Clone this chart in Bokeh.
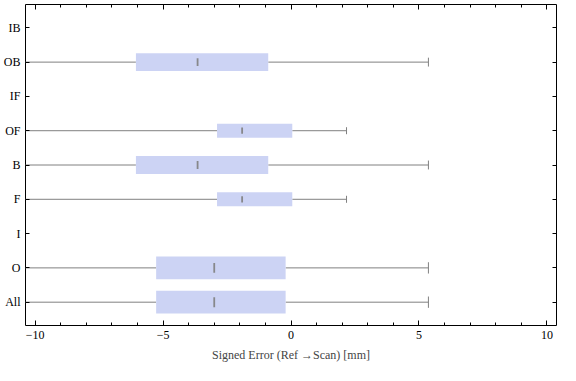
import math
from bokeh.plotting import figure
from bokeh.models import (Range1d, FixedTicker, SingleIntervalTicker, LinearAxis,
                          ColumnDataSource, CustomLabelingPolicy)
from bokeh.embed import file_html
from bokeh.resources import INLINE

# ---- data (bottom to top) ----
categories = ["All", "O", "I", "F", "B", "OF", "IF", "OB", "IB"]
counts     = [13, 13, 0, 5, 8, 5, 0, 8, 0]
lower      = [-14.0, -14.0, None, -14.0, -14.0, -14.0, None, -14.0, None]
q1         = [-5.27, -5.27, None, -2.89, -6.06, -2.89, None, -6.06, None]
median     = [-3.00, -3.00, None, -1.91, -3.65, -1.91, None, -3.65, None]
q3         = [-0.21, -0.21, None, 0.05, -0.89, 0.05, None, -0.89, None]
upper      = [5.37, 5.37, None, 2.17, 5.37, 2.17, None, 5.37, None]

x_tick_labels = {-10: "\u221210", -5: "\u22125", 0: "0", 5: "5", 10: "10"}
x_label = "Signed Error (Ref \u2192Scan) [mm]"

# ---- build sources ----
positions = list(range(1, len(categories) + 1))
nmax = max(counts)
rows = [i for i, n in enumerate(counts) if n > 0 and q1[i] is not None]
w = [0.66 * math.sqrt(counts[i] / nmax) for i in rows]
src = ColumnDataSource(dict(
    y=[positions[i] for i in rows],
    lo=[lower[i] for i in rows],
    q1=[q1[i] for i in rows],
    med=[median[i] for i in rows],
    q3=[q3[i] for i in rows],
    hi=[upper[i] for i in rows],
    w=w,
    cap_lo=[positions[i] - wi / 4 for i, wi in zip(rows, w)],
    cap_hi=[positions[i] + wi / 4 for i, wi in zip(rows, w)],
    med_lo=[positions[i] - wi * 0.22 for i, wi in zip(rows, w)],
    med_hi=[positions[i] + wi * 0.22 for i, wi in zip(rows, w)],
))

FONT = "Liberation Serif"

p = figure(width=560, height=365, output_backend="svg", toolbar_location=None,
           x_range=Range1d(-10.375, 10.375), y_range=Range1d(0.32, 9.68),
           min_border_left=21, min_border_right=2, min_border_top=2,
           min_border_bottom=40, x_axis_location=None, y_axis_location=None)
p.grid.visible = False
p.outline_line_color = "black"
p.outline_line_width = 1
p.background_fill_color = "white"
p.border_fill_color = "white"

xt = SingleIntervalTicker(interval=5, num_minor_ticks=5)
yt = FixedTicker(ticks=positions, minor_ticks=[])

hide_all = CustomLabelingPolicy(code="""
    const all = [...indices];
    for (const i of all) indices.unset(i);
""")

def style(ax, labels=True):
    ax.axis_line_color = None
    ax.major_tick_in = 5
    ax.major_tick_out = 0
    ax.minor_tick_in = 3
    ax.minor_tick_out = 0
    ax.major_tick_line_color = "black"
    ax.minor_tick_line_color = "black"
    ax.major_label_text_font = FONT
    ax.major_label_text_color = "black"
    if labels:
        ax.major_label_text_font_size = "12px"
        ax.major_label_standoff = 5
    else:
        ax.major_label_text_font_size = "1px"
        ax.major_label_standoff = 0
        ax.major_label_policy = hide_all

bottom = LinearAxis(ticker=xt, axis_label=x_label,
                    major_label_overrides=x_tick_labels)
style(bottom)
bottom.axis_label_text_font = FONT
bottom.axis_label_text_font_size = "12px"
bottom.axis_label_text_font_style = "normal"
bottom.axis_label_standoff = 6
p.add_layout(bottom, "below")

top = LinearAxis(ticker=xt)
style(top, labels=False)
p.add_layout(top, "above")

left = LinearAxis(ticker=yt,
                  major_label_overrides={pos: c for pos, c in zip(positions, categories)})
style(left)
left.major_tick_in = 4
p.add_layout(left, "left")

right = LinearAxis(ticker=yt)
style(right, labels=False)
right.major_tick_in = 4
p.add_layout(right, "right")

wc = "#808080"
p.segment(x0="lo", y0="y", x1="q1", y1="y", source=src, line_color=wc, line_width=1)
p.segment(x0="q3", y0="y", x1="hi", y1="y", source=src, line_color=wc, line_width=1)
p.segment(x0="hi", y0="cap_lo", x1="hi", y1="cap_hi", source=src, line_color=wc, line_width=1)
p.hbar(y="y", left="q1", right="q3", height="w", source=src,
       fill_color="#CCD3F4", line_color=None)
p.segment(x0="med", y0="med_lo", x1="med", y1="med_hi", source=src,
          line_color="#808080", line_width=1.8, line_alpha=0.9)

open("out.html", "w").write(file_html(p, INLINE))
